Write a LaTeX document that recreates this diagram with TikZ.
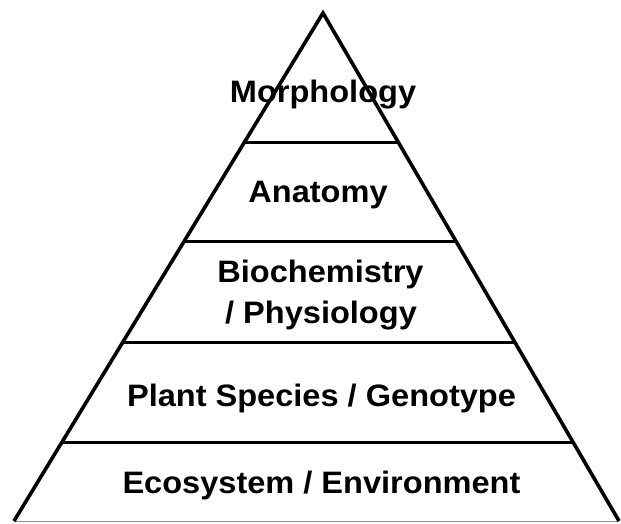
\documentclass[tikz,border=0pt]{standalone}
\usepackage{fontspec}
\setmainfont{Liberation Sans}[FakeStretch=1.05]
\usetikzlibrary{calc}
\begin{document}
\begin{tikzpicture}[x=1pt,y=-1pt,
  edge/.style={line width=3.6pt,line join=miter},
  tier/.style={line width=3.2pt},
  baseln/.style={line width=1pt,draw=black!45},
  lbl/.style={inner sep=0pt,anchor=base,font=\fontsize{31pt}{31pt}\selectfont\bfseries}]
\useasboundingbox (0,0) rectangle (621,523);
\coordinate (A) at (323,13);
\coordinate (BL) at (14,521);
\coordinate (BR) at (619,521);
% labels
\node[lbl] (morph) at (323,102) {Morphology};
\node[lbl] (anat) at (318,202) {Anatomy};
\node[lbl] (bio1) at (320.5,282) {Biochemistry};
\node[lbl] (bio2) at (321,323) {/ Physiology};
\node[lbl] (plant) at (321.5,406) {Plant Species / Genotype};
\node[lbl] (eco) at (321.5,493) {Ecosystem / Environment};
% tier lines
\foreach \t/\n in {0.2554/1,0.4499/2,0.6483/3,0.8448/4}{
  \coordinate (L\n) at ($(A)!\t!(BL)$);
  \coordinate (R\n) at ($(A)!\t!(BR)$);
  \draw[tier] (L\n) -- (R\n);
}
\draw[baseln] (BL) -- (BR);
\draw[edge] (BL) -- (A) -- (BR);
\end{tikzpicture}
\end{document}
